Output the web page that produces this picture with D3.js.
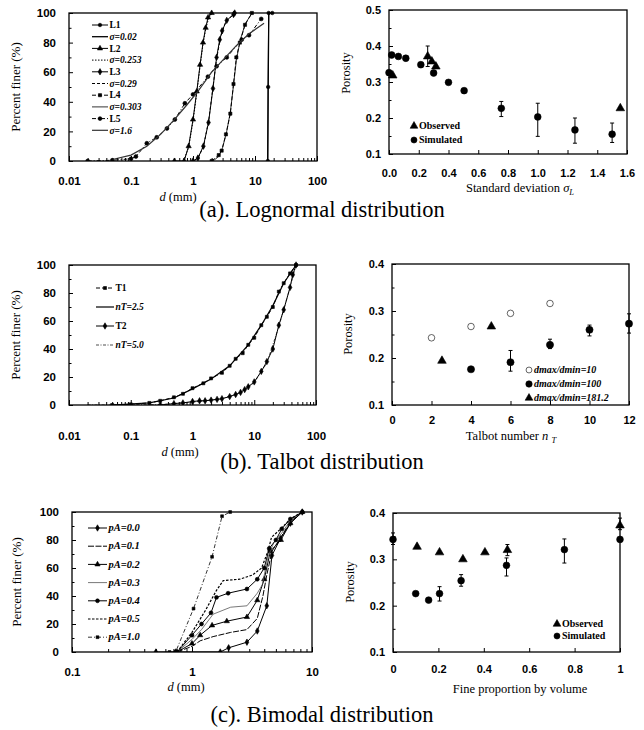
<!DOCTYPE html>
<html>
<head>
<meta charset="utf-8">
<script src="https://cdn.jsdelivr.net/npm/d3@7"></script>
<style>
  body { margin: 0; background: #fff; }
  svg { display: block; font-family: 'Liberation Serif', 'DejaVu Serif', serif; }
  .tick text { font-weight: bold; }
</style>
</head>
<body>
<svg id="fig" width="644" height="730"></svg>
<script>
// ---- (a) lognormal grading curves: [d (mm), percent finer]
var lnL1 = [[16.1, 0], [16.3, 50], [16.6, 100], [19, 100]];
var lnFit002 = [[16, 0], [16.3, 50], [16.7, 100]];
var lnL2 = [[0.5, 0], [0.72, 0], [0.85, 10], [1.0, 28], [1.15, 47], [1.3, 65], [1.45, 80], [1.6, 90], [1.75, 97], [2.0, 100]];
var lnFit0253 = [[0.7, 0], [0.85, 9], [1.0, 27], [1.15, 46], [1.3, 64], [1.45, 79], [1.6, 89], [1.8, 97], [2.1, 100]];
var lnL3 = [[1.0, 0], [1.2, 2], [1.47, 10], [1.78, 26], [2.1, 49], [2.4, 70], [2.7, 82], [2.95, 88], [3.5, 95], [4.5, 99], [4.7, 100]];
var lnFit029 = [[1.05, 0], [1.25, 3], [1.5, 11], [1.8, 28], [2.1, 50], [2.4, 69], [2.8, 84], [3.3, 93], [4.2, 98], [4.8, 100]];
var lnL4 = [[2.0, 0], [2.6, 4], [2.9, 7], [3.4, 18], [4.0, 32], [4.5, 52], [5.0, 70], [5.7, 80], [6.9, 92], [8.9, 100]];
var lnFit0303 = [[2.1, 0], [2.6, 3], [3.0, 9], [3.5, 20], [4.0, 33], [4.5, 51], [5.0, 68], [5.8, 82], [7.0, 93], [9.0, 100]];
var lnL5 = [[0.02, 0], [0.05, 0.5], [0.1, 1.5], [0.12, 3], [0.18, 12], [0.26, 16], [0.38, 22], [0.51, 28], [0.74, 39], [1.0, 45], [1.74, 57], [2.4, 64], [3.5, 70], [6.1, 82], [8, 85], [12.6, 96]];
var lnFit16 = [[0.05, 1], [0.1, 4], [0.18, 10], [0.3, 18], [0.5, 28], [0.8, 38], [1.2, 47], [2, 60], [3, 68], [5, 78], [8, 86], [14, 93]];

// ---- (a) porosity vs sigma: [sigma, porosity, errLow, errHigh]
var sdObserved = [[0.025, 0.318], [0.26, 0.371, 0.343, 0.4], [0.288, 0.357], [0.315, 0.343], [1.555, 0.227]];
var sdSimulated = [[0.0, 0.326], [0.018, 0.375], [0.063, 0.371], [0.113, 0.366], [0.214, 0.348], [0.3, 0.325], [0.4, 0.299], [0.505, 0.276],
  [0.755, 0.227, 0.204, 0.246], [1.0, 0.203, 0.149, 0.241], [1.25, 0.167, 0.13, 0.2], [1.5, 0.155, 0.132, 0.186]];

// ---- (b) Talbot grading curves
var tbT1 = [[0.05, 0], [0.1, 0.5], [0.2, 1.5], [0.3, 3], [0.5, 5.5], [0.7, 8], [1.0, 12], [1.5, 15.5], [2.0, 19], [3.0, 23], [4.0, 28], [5.0, 33],
  [6.5, 37], [8.0, 43], [10, 48], [13, 57], [16, 63], [20, 70], [25, 81], [30, 87], [38, 94], [47.5, 100]];
var tbFit25 = [[0.05, 0], [0.2, 1.5], [0.5, 5], [1.0, 11.5], [2.0, 18.5], [4.0, 28], [8.0, 43], [13, 57], [20, 71], [30, 87], [47.5, 100]];
var tbT2 = [[0.3, 0], [0.5, 1], [0.7, 1.5], [1.0, 2.5], [1.3, 3], [1.6, 3], [2.0, 3.5], [2.5, 4], [3.0, 4.5], [4.0, 6], [5.0, 7.5], [6.0, 9],
  [7.0, 11], [8.0, 13], [10, 16.5], [13, 24], [16, 31], [20, 40], [25, 57], [30, 68], [38, 84], [42, 93], [47.5, 100]];
var tbFit50 = [[0.02, 0], [0.3, 0.3], [1.0, 2], [3.0, 4.5], [6.0, 9], [10, 16], [16, 30], [25, 56], [38, 84], [47.5, 100]];

// ---- (b) porosity vs Talbot number
var tbRatio10 = [[2, 0.243], [4, 0.267], [6, 0.295], [8, 0.316]];
var tbRatio100 = [[4, 0.176], [6, 0.191, 0.172, 0.216], [8, 0.228, 0.22, 0.24], [10, 0.26, 0.247, 0.27], [12, 0.273, 0.253, 0.294]];
var tbRatio181 = [[2.53, 0.194], [5.03, 0.267]];

// ---- (c) bimodal grading curves
var bmP00 = [[0.5, 0], [0.73, 0], [1.72, 0], [2.02, 3], [2.87, 7], [3.5, 15], [4.2, 33], [4.64, 69], [5.45, 81], [6.6, 92], [8.3, 100]];
var bmP01 = [[0.75, 0], [1.0, 4], [1.17, 8], [1.5, 11], [2.1, 14], [2.87, 16], [3.5, 24], [3.9, 40], [4.2, 55], [4.64, 72], [5.5, 82], [6.6, 93], [8.3, 100]];
var bmP02 = [[0.75, 0], [1.0, 6], [1.17, 12], [1.47, 19], [1.95, 22], [2.87, 25], [3.5, 37], [4.0, 52], [4.5, 72], [5.5, 80], [6.6, 92], [8.3, 100]];
var bmP03 = [[0.75, 0], [1.0, 9], [1.2, 16], [1.5, 27], [2.1, 32], [2.87, 33], [3.5, 42], [3.85, 48], [4.3, 68], [4.8, 78], [5.6, 85], [6.6, 94], [8.3, 100]];
var bmP04 = [[0.75, 0], [1.0, 12], [1.2, 20], [1.44, 28], [1.6, 39], [2.0, 42], [2.87, 45], [3.5, 52], [4.0, 60], [4.4, 74], [5.0, 80], [5.6, 88], [6.6, 95], [8.3, 100]];
var bmP05 = [[0.75, 0], [1.0, 14], [1.3, 30], [1.6, 44], [1.82, 51], [2.5, 52], [3.2, 55], [3.8, 60], [4.3, 72], [4.6, 82], [5.5, 88], [6.6, 95], [8.3, 100]];
var bmP10 = [[0.65, 0], [0.73, 0], [1.03, 31], [1.47, 68], [1.78, 97], [2.08, 100]];

// ---- (c) porosity vs fine proportion
var bmObserved = [[0.106, 0.327], [0.205, 0.315], [0.308, 0.3], [0.405, 0.315], [0.504, 0.32, 0.308, 0.332], [1.0, 0.373, 0.364, 0.389]];
var bmSimulated = [[0, 0.343, 0.332, 0.357], [0.1, 0.226], [0.157, 0.212], [0.205, 0.226, 0.21, 0.241], [0.3, 0.254, 0.242, 0.267],
  [0.5, 0.287, 0.264, 0.303], [0.755, 0.321, 0.292, 0.344], [1.0, 0.343]];

// ---- tick labels
var pctTicks = [0, 20, 40, 60, 80, 100];
var sdTicks = [0, 0.2, 0.4, 0.6, 0.8, 1.0, 1.2, 1.4, 1.6];
var nTTicks = [0, 2, 4, 6, 8, 10, 12];
var fineTicks = [0, 0.2, 0.4, 0.6, 0.8, 1];

var svg = d3.select('#fig');
svg.append('rect').attr('width', 644).attr('height', 730).attr('fill', '#fff');

function marker(g, sym, size, fill, pts, x, y) {
  if (!sym) return;
  g.selectAll(null).data(pts).enter().append('path')
    .attr('d', d3.symbol().type(sym).size(size))
    .attr('transform', function(d) { return 'translate(' + x(d[0]) + ',' + y(d[1]) + ')'; })
    .attr('fill', fill || '#000')
    .attr('stroke', '#000')
    .attr('stroke-width', 0.6);
}

function frame(g, o) {
  g.append('rect')
    .attr('x', o.left).attr('y', o.top)
    .attr('width', o.right - o.left).attr('height', o.bottom - o.top)
    .attr('fill', 'none').attr('stroke', '#000').attr('stroke-width', 1.3);
}

function cleanAxis(sel) {
  sel.select('.domain').remove();
  sel.selectAll('line').attr('stroke', '#000');
}

// grading curve panel (log x)
function gradingPanel(o) {
  var g = svg.append('g');
  var x = d3.scaleLog().domain(o.xDomain).range([o.left, o.right]);
  var y = d3.scaleLinear().domain([0, 100]).range([o.bottom, o.top]);

  var line = d3.line().x(function(d) { return x(d[0]); }).y(function(d) { return y(d[1]); });

  var clip = 'clip' + o.id;
  g.append('clipPath').attr('id', clip).append('rect')
    .attr('x', o.left).attr('y', o.top - 4).attr('width', o.right - o.left).attr('height', o.bottom - o.top + 4);

  var plot = g.append('g').attr('clip-path', 'url(#' + clip + ')');
  o.series.forEach(function(s) {
    plot.append('path').datum(s.data)
      .attr('d', line)
      .attr('fill', 'none')
      .attr('stroke', s.color || '#000')
      .attr('stroke-width', s.width || 1)
      .attr('stroke-dasharray', s.dash || null);
    marker(plot, s.symbol, s.size || 14, '#000', s.data, x, y);
  });

  frame(g, o);

  g.append('g').attr('transform', 'translate(' + o.left + ',0)')
    .call(d3.axisLeft(y).tickValues(pctTicks).tickSize(-4).tickPadding(13))
    .call(cleanAxis)
    .selectAll('text').attr('font-size', 11.5);
  g.append('g').attr('transform', 'translate(' + o.left + ',0)')
    .call(d3.axisLeft(y).tickValues(d3.range(10, 100, 20)).tickSize(-2.5).tickFormat(''))
    .call(cleanAxis);

  var decades = o.xTicks;
  var minor = [];
  decades.forEach(function(v) {
    for (var k = 2; k < 10; k++) if (v * k < o.xDomain[1]) minor.push(v * k);
  });
  g.append('g').attr('transform', 'translate(0,' + o.bottom + ')')
    .call(d3.axisBottom(x).tickValues(decades).tickSize(-5).tickPadding(o.xPad).tickFormat(function(d) { return String(d); }))
    .call(cleanAxis)
    .selectAll('text').attr('font-size', 11.5);
  g.append('g').attr('transform', 'translate(0,' + o.bottom + ')')
    .call(d3.axisBottom(x).tickValues(minor).tickSize(-3).tickFormat(''))
    .call(cleanAxis);

  // legend
  o.series.forEach(function(s, i) {
    var ly = o.legendTop + i * o.legendStep;
    g.append('line')
      .attr('x1', o.legendX).attr('x2', o.legendX + o.legendLen)
      .attr('y1', ly).attr('y2', ly)
      .attr('stroke', s.color || '#000')
      .attr('stroke-width', s.width || 1)
      .attr('stroke-dasharray', s.dash || null);
    marker(g, s.symbol, s.size || 14, '#000', [[0, 0]],
      function() { return o.legendX + o.legendLen / 2; }, function() { return ly; });
    g.append('text')
      .attr('x', o.legendX + o.legendLen + 1.5).attr('y', ly + 3.2)
      .attr('font-size', o.legendFont).attr('font-weight', 'bold')
      .attr('font-style', s.italic ? 'italic' : null)
      .text(s.label);
  });

  g.append('text')
    .attr('transform', 'translate(' + o.yTitleX + ',' + ((o.top + o.bottom) / 2) + ') rotate(-90)')
    .attr('text-anchor', 'middle').attr('font-size', 13)
    .text('Percent finer (%)');

  var t = g.append('text').attr('x', o.xTitleX).attr('y', o.xTitleY)
    .attr('text-anchor', 'middle').attr('font-size', 12.5);
  t.append('tspan').attr('font-style', 'italic').text('d');
  t.append('tspan').text(' (mm)');
}

// porosity scatter panel (linear x)
function porosityPanel(o) {
  var g = svg.append('g');
  var x = d3.scaleLinear().domain(o.xDomain).range([o.left, o.right]);
  var y = d3.scaleLinear().domain(o.yDomain).range([o.bottom, o.top]);

  frame(g, o);

  g.append('g').attr('transform', 'translate(' + o.left + ',0)')
    .call(d3.axisLeft(y).tickValues(o.yTicks).tickSize(-4).tickPadding(8).tickFormat(d3.format('.1f')))
    .call(cleanAxis)
    .selectAll('text').attr('font-size', 11);
  g.append('g').attr('transform', 'translate(' + o.left + ',0)')
    .call(d3.axisLeft(y).tickValues(o.yMinor).tickSize(-2.5).tickFormat(''))
    .call(cleanAxis);
  g.append('g').attr('transform', 'translate(0,' + o.bottom + ')')
    .call(d3.axisBottom(x).tickValues(o.xTicks).tickSize(-4).tickPadding(o.xPad).tickFormat(o.xFormat))
    .call(cleanAxis)
    .selectAll('text').attr('font-size', 11);

  o.groups.forEach(function(s) {
    var withErr = s.data.filter(function(d) { return d.length > 2; });
    var eb = g.append('g').attr('stroke', '#000').attr('stroke-width', 1);
    eb.selectAll(null).data(withErr).enter().append('line')
      .attr('x1', function(d) { return x(d[0]); }).attr('x2', function(d) { return x(d[0]); })
      .attr('y1', function(d) { return y(d[2]); }).attr('y2', function(d) { return y(d[3]); });
    [2, 3].forEach(function(k) {
      eb.selectAll(null).data(withErr).enter().append('line')
        .attr('x1', function(d) { return x(d[0]) - 2; }).attr('x2', function(d) { return x(d[0]) + 2; })
        .attr('y1', function(d) { return y(d[k]); }).attr('y2', function(d) { return y(d[k]); });
    });
    marker(g, s.symbol, s.size, s.fill, s.data, x, y);
  });

  o.groups.forEach(function(s, i) {
    var ly = o.legendTop + i * o.legendStep;
    marker(g, s.symbol, s.size * 0.8, s.fill, [[0, 0]],
      function() { return o.legendX; }, function() { return ly; });
    g.append('text')
      .attr('x', o.legendX + 5).attr('y', ly + 3.3)
      .attr('font-size', o.legendFont).attr('font-weight', 'bold')
      .attr('font-style', s.italic ? 'italic' : null)
      .text(s.label);
  });

  g.append('text')
    .attr('transform', 'translate(' + o.yTitleX + ',' + o.yTitleY + ') rotate(-90)')
    .attr('text-anchor', 'middle').attr('font-size', 12.5)
    .text('Porosity');

  var t = g.append('text').attr('x', o.xTitleX).attr('y', o.xTitleY)
    .attr('text-anchor', 'middle').attr('font-size', 12.5);
  o.xTitle.forEach(function(p) {
    var ts = t.append('tspan').text(p.t);
    if (p.i) ts.attr('font-style', 'italic');
    if (p.sub) ts.attr('font-size', 8.5).attr('dy', 3);
  });
}

gradingPanel({
  id: 'a', left: 69, right: 317, top: 13, bottom: 161,
  xDomain: [0.01, 100], xTicks: [0.01, 0.1, 1, 10, 100], xPad: 16,
  legendX: 92, legendLen: 16, legendTop: 25, legendStep: 11.7, legendFont: 9.5,
  yTitleX: 20, xTitleX: 178, xTitleY: 201,
  series: [
    { label: 'L1', data: lnL1, symbol: d3.symbolCircle, size: 10 },
    { label: 'σ=0.02', data: lnFit002, italic: true, width: 1.3 },
    { label: 'L2', data: lnL2, symbol: d3.symbolTriangle, size: 12 },
    { label: 'σ=0.253', data: lnFit0253, italic: true, dash: '1.5,1.5' },
    { label: 'L3', data: lnL3, symbol: d3.symbolDiamond, size: 12 },
    { label: 'σ=0.29', data: lnFit029, italic: true, dash: '3,2' },
    { label: 'L4', data: lnL4, symbol: d3.symbolSquare, size: 10, dash: '4,2' },
    { label: 'σ=0.303', data: lnFit0303, italic: true, width: 0.8 },
    { label: 'L5', data: lnL5, symbol: d3.symbolCircle, size: 12, dash: '4,2,1,2' },
    { label: 'σ=1.6', data: lnFit16, italic: true, width: 1.2, color: '#333' }
  ]
});

porosityPanel({
  left: 389, right: 627, top: 10, bottom: 154,
  xDomain: [0, 1.6], yDomain: [0.1, 0.5],
  xTicks: sdTicks, xFormat: d3.format('.1f'), xPad: 15,
  yTicks: [0.1, 0.2, 0.3, 0.4, 0.5], yMinor: [0.15, 0.25, 0.35, 0.45],
  legendX: 414, legendTop: 126, legendStep: 14, legendFont: 10,
  yTitleX: 350, yTitleY: 73, xTitleX: 520, xTitleY: 192,
  xTitle: [{ t: 'Standard deviation ' }, { t: 'σ', i: true }, { t: 'L', i: true, sub: true }],
  groups: [
    { label: 'Observed', data: sdObserved, symbol: d3.symbolTriangle, size: 32, fill: '#000' },
    { label: 'Simulated', data: sdSimulated, symbol: d3.symbolCircle, size: 36, fill: '#000' }
  ]
});

gradingPanel({
  id: 'b', left: 69, right: 316, top: 265, bottom: 405,
  xDomain: [0.01, 100], xTicks: [0.01, 0.1, 1, 10, 100], xPad: 27,
  legendX: 96, legendLen: 18, legendTop: 288, legendStep: 19, legendFont: 9.5,
  yTitleX: 20, xTitleX: 180, xTitleY: 456,
  series: [
    { label: 'T1', data: tbT1, symbol: d3.symbolSquare, size: 9, dash: '4,2' },
    { label: 'nT=2.5', data: tbFit25, italic: true, width: 1.2 },
    { label: 'T2', data: tbT2, symbol: d3.symbolDiamond, size: 12 },
    { label: 'nT=5.0', data: tbFit50, italic: true, width: 0.7, dash: '3,1.5,1,1.5' }
  ]
});

porosityPanel({
  left: 392, right: 629, top: 264, bottom: 405,
  xDomain: [0, 12], yDomain: [0.1, 0.4],
  xTicks: nTTicks, xFormat: d3.format('d'), xPad: 11,
  yTicks: [0.1, 0.2, 0.3, 0.4], yMinor: [0.15, 0.25, 0.35],
  legendX: 529, legendTop: 370, legendStep: 14, legendFont: 10,
  yTitleX: 352, yTitleY: 334, xTitleX: 511, xTitleY: 440,
  xTitle: [{ t: 'Talbot number ' }, { t: 'n', i: true }, { t: ' ' }, { t: 'T', i: true, sub: true }],
  groups: [
    { label: 'dmax/dmin=10', data: tbRatio10, symbol: d3.symbolCircle, size: 34, fill: '#fff', italic: true },
    { label: 'dmax/dmin=100', data: tbRatio100, symbol: d3.symbolCircle, size: 40, fill: '#000', italic: true },
    { label: 'dmax/dmin=181.2', data: tbRatio181, symbol: d3.symbolTriangle, size: 32, fill: '#000', italic: true }
  ]
});

gradingPanel({
  id: 'c', left: 72, right: 312, top: 512, bottom: 652,
  xDomain: [0.1, 10], xTicks: [0.1, 1, 10], xPad: 16,
  legendX: 88, legendLen: 19, legendTop: 528, legendStep: 18.2, legendFont: 10.5,
  yTitleX: 21, xTitleX: 186, xTitleY: 691,
  series: [
    { label: 'pA=0.0', data: bmP00, symbol: d3.symbolDiamond, size: 12, italic: true },
    { label: 'pA=0.1', data: bmP01, italic: true, dash: '6,1.5' },
    { label: 'pA=0.2', data: bmP02, symbol: d3.symbolTriangle, size: 12, italic: true },
    { label: 'pA=0.3', data: bmP03, italic: true, width: 0.8, color: '#555' },
    { label: 'pA=0.4', data: bmP04, symbol: d3.symbolCircle, size: 12, italic: true },
    { label: 'pA=0.5', data: bmP05, italic: true, dash: '2.5,1.5', width: 1.2 },
    { label: 'pA=1.0', data: bmP10, symbol: d3.symbolSquare, size: 8, italic: true, dash: '4,2,1,2', width: 0.8 }
  ]
});

porosityPanel({
  left: 393, right: 620, top: 513, bottom: 652,
  xDomain: [0, 1], yDomain: [0.1, 0.4],
  xTicks: fineTicks, xFormat: function(d) { return String(d); }, xPad: 13,
  yTicks: [0.1, 0.2, 0.3, 0.4], yMinor: [0.15, 0.25, 0.35],
  legendX: 557, legendTop: 624, legendStep: 12, legendFont: 10,
  yTitleX: 354, yTitleY: 582, xTitleX: 520, xTitleY: 693,
  xTitle: [{ t: 'Fine proportion by volume' }],
  groups: [
    { label: 'Observed', data: bmObserved, symbol: d3.symbolTriangle, size: 32, fill: '#000' },
    { label: 'Simulated', data: bmSimulated, symbol: d3.symbolCircle, size: 36, fill: '#000' }
  ]
});

// sub-figure captions
[['(a). Lognormal distribution', 322, 217], ['(b). Talbot distribution', 322, 469], ['(c). Bimodal distribution', 322, 722]].forEach(function(c) {
  svg.append('text').attr('x', c[1]).attr('y', c[2])
    .attr('text-anchor', 'middle').attr('font-size', 22.5)
    .text(c[0]);
});
</script>
</body>
</html>
